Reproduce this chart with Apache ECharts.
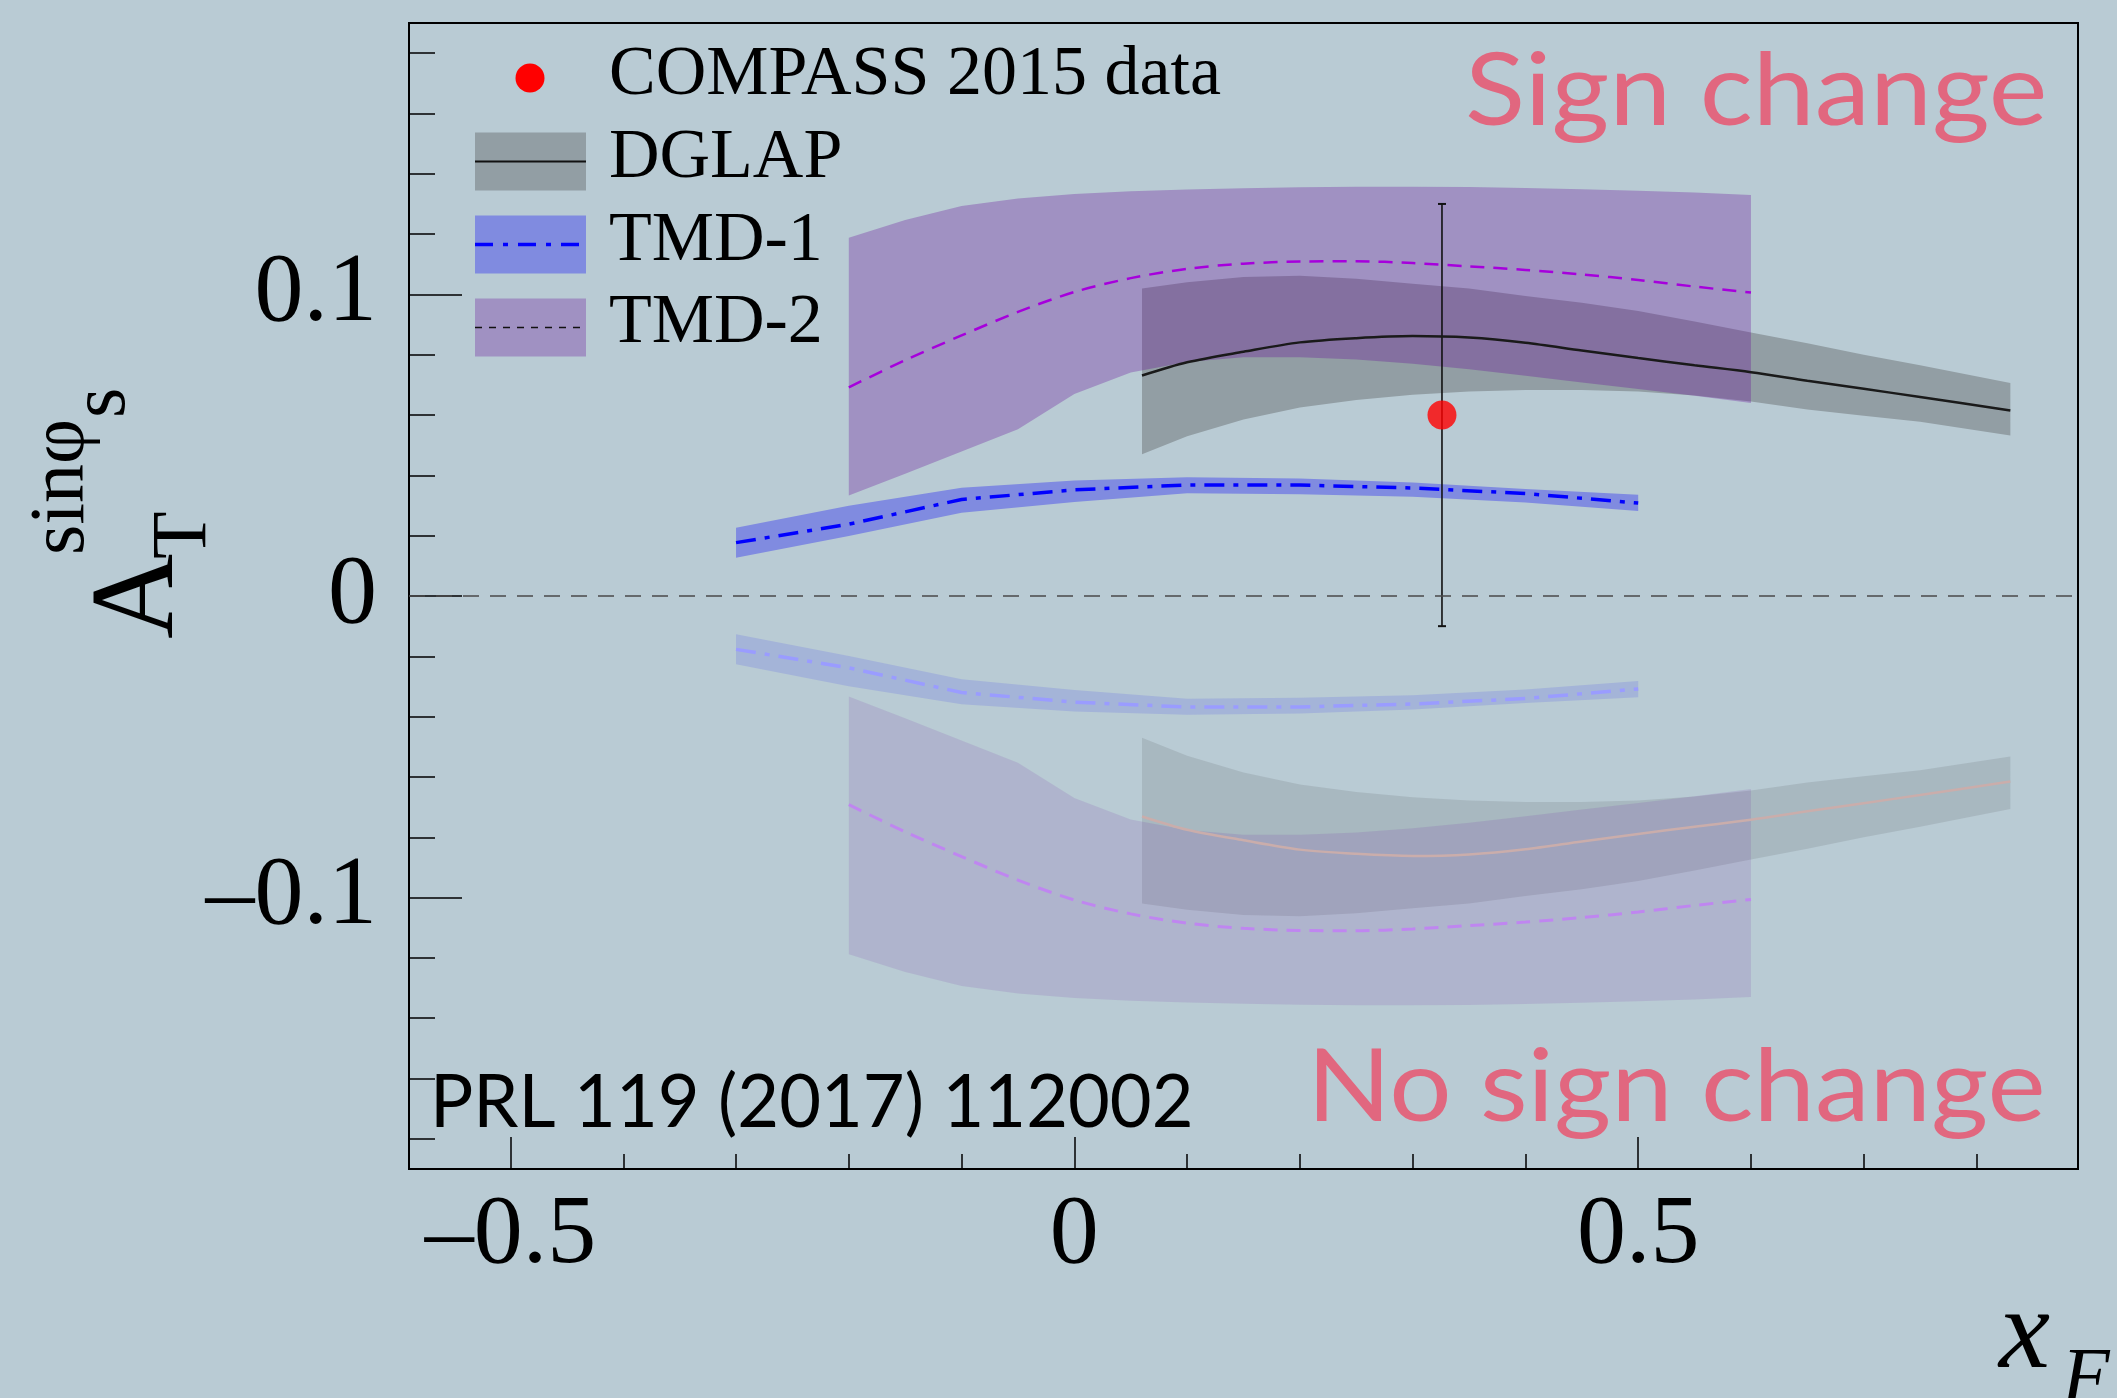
<!DOCTYPE html>
<html>
<head>
<meta charset="utf-8">
<script src="https://cdn.jsdelivr.net/npm/echarts@6/dist/echarts.min.js"></script>
<style>
  html, body { margin: 0; padding: 0; background: #b9cbd4; }
  #chart { width: 2117px; height: 1398px; }
</style>
</head>
<body>
<div id="chart"></div>
<script>
// A_T^{sin phi_s} vs x_F : DGLAP / TMD-1 / TMD-2 bands + COMPASS 2015 point
// upper half = "sign change", lower half = mirrored "no sign change"

const dglapX   = [0.06, 0.10, 0.15, 0.20, 0.25, 0.30, 0.35, 0.40, 0.45, 0.50, 0.55, 0.60, 0.65, 0.70, 0.75, 0.83];
const dglapMid = [0.0731, 0.0775, 0.0810, 0.0841, 0.0855, 0.0862, 0.0857, 0.0840, 0.0814, 0.0789, 0.0765, 0.0742, 0.0714, 0.0687, 0.0660, 0.0615];
const dglapHi  = [0.1020, 0.1040, 0.1058, 0.1062, 0.1052, 0.1035, 0.1020, 0.0995, 0.0972, 0.0945, 0.0910, 0.0874, 0.0838, 0.0800, 0.0765, 0.0706];
const dglapLo  = [0.0470, 0.0530, 0.0585, 0.0625, 0.0650, 0.0667, 0.0678, 0.0683, 0.0683, 0.0678, 0.0665, 0.0645, 0.0618, 0.0598, 0.0578, 0.0532];

const tmd1X   = [-0.3, -0.2, -0.1, 0.0, 0.1, 0.2, 0.3, 0.4, 0.5];
const tmd1Mid = [0.0177, 0.0238, 0.0320, 0.0352, 0.0368, 0.0368, 0.0358, 0.0340, 0.0308];
const tmd1Hi  = [0.0226, 0.0299, 0.0359, 0.0383, 0.0394, 0.0390, 0.0376, 0.0355, 0.0336];
const tmd1Lo  = [0.0127, 0.0199, 0.0276, 0.0312, 0.0341, 0.0337, 0.0329, 0.0310, 0.0282];

const tmd2X   = [-0.2, -0.15, -0.1, -0.05, 0.0, 0.05, 0.1, 0.15, 0.2, 0.25, 0.3, 0.35, 0.4, 0.45, 0.5, 0.55, 0.6];
const tmd2Mid = [0.0692, 0.0782, 0.0864, 0.0942, 0.1008, 0.1054, 0.1085, 0.1102, 0.1109, 0.1110, 0.1104, 0.1093, 0.1081, 0.1066, 0.1048, 0.1026, 0.1006];
const tmd2Hi  = [0.1188, 0.1247, 0.1293, 0.1318, 0.1333, 0.1342, 0.1348, 0.1352, 0.1355, 0.1357, 0.1357, 0.1356, 0.1353, 0.1349, 0.1344, 0.1338, 0.1330];
const tmd2Lo  = [0.0333, 0.0405, 0.0479, 0.0553, 0.0670, 0.0741, 0.0776, 0.0792, 0.0792, 0.0784, 0.0770, 0.0752, 0.0730, 0.0708, 0.0686, 0.0664, 0.0640];

const compassX   = [0.326];
const compassY   = [0.060];
const compassErr = [0.070];

const xMajor = [-0.5, 0, 0.5];
const xMajorLabels = ["\u20130.5", "0", "0.5"];
const xMinor = [-0.4, -0.3, -0.2, -0.1, 0.1, 0.2, 0.3, 0.4, 0.6, 0.7, 0.8];
const yMajor = [-0.1, 0, 0.1];
const yMajorLabels = ["\u20130.1", "0", "0.1"];
const yMinor = [-0.18, -0.16, -0.14, -0.12, -0.08, -0.06, -0.04, -0.02, 0.02, 0.04, 0.06, 0.08, 0.12, 0.14, 0.16, 0.18];

const X_MIN = -0.59, X_MAX = 0.89, Y_MIN = -0.19, Y_MAX = 0.19;

const BG = "#b9cbd4";
const SERIF = "Liberation Serif";

const neg = (a) => a.map((v) => -v);
const pairs = (xs, ys) => xs.map((x, i) => [x, ys[i]]);

function labelOf(vals, labels) {
  return (v) => {
    const i = vals.findIndex((t) => Math.abs(t - v) < 1e-9);
    return i >= 0 ? labels[i] : "";
  };
}

// one filled polygon between lo and hi, through the axis scales
function band(xs, lo, hi, fill) {
  return {
    type: "custom",
    silent: true,
    data: xs.map((x, i) => [x, lo[i], hi[i]]),
    encode: { x: 0, y: [1, 2] },
    renderItem: (params, api) => {
      if (params.dataIndex !== 0) return;
      const top = xs.map((x, i) => api.coord([x, hi[i]]));
      const bot = xs.map((x, i) => api.coord([x, lo[i]])).reverse();
      return { type: "polygon", shape: { points: top.concat(bot) }, style: { fill } };
    },
  };
}

function curve(xs, ys, color, width, dash, smooth) {
  return {
    type: "line",
    silent: true,
    data: pairs(xs, ys),
    symbol: "none",
    smooth: smooth || false,
    lineStyle: { color, width, type: dash || "solid", cap: "butt" },
  };
}

const PURPLE_HI = "rgba(97,0,151,0.285)";
const PURPLE_LO = "rgba(97,0,151,0.11)";

const series = [
  // mirrored, "no sign change"
  band(dglapX, neg(dglapHi), neg(dglapLo), "rgba(146,158,164,0.42)"),
  band(tmd2X, neg(tmd2Hi), neg(tmd2Lo), PURPLE_LO),
  curve(dglapX, neg(dglapMid), "#caadab", 2.5, "solid", 0.3),
  curve(tmd2X, neg(tmd2Mid), "#bf86f0", 3, [14, 9], 0.3),
  band(tmd1X, neg(tmd1Hi), neg(tmd1Lo), "rgba(128,139,224,0.36)"),
  curve(tmd1X, neg(tmd1Mid), "#9a9cff", 3.5, [20, 9, 5, 9]),
  // "sign change"
  band(dglapX, dglapLo, dglapHi, "#929ea4"),
  curve(dglapX, dglapMid, "#1a1a1a", 2.5, "solid", 0.3),
  band(tmd2X, tmd2Lo, tmd2Hi, PURPLE_HI),
  curve(tmd2X, tmd2Mid, "#a600dc", 2.5, [14, 9], 0.3),
  band(tmd1X, tmd1Lo, tmd1Hi, "#808be0"),
  curve(tmd1X, tmd1Mid, "#0000ff", 3.5, [20, 9, 5, 9]),
  // zero line
  curve([X_MIN, X_MAX], [0, 0], "#4a4a4a", 1.5, [16, 11]),
  // error bar
  {
    type: "custom",
    silent: true,
    data: compassX.map((x, i) => [x, compassY[i], compassY[i] - compassErr[i], compassY[i] + compassErr[i]]),
    encode: { x: 0, y: [1, 2, 3] },
    renderItem: (params, api) => {
      const a = api.coord([api.value(0), api.value(2)]);
      const b = api.coord([api.value(0), api.value(3)]);
      const st = { stroke: "#111", lineWidth: 1.6 };
      return {
        type: "group",
        children: [
          { type: "line", shape: { x1: a[0], y1: a[1], x2: b[0], y2: b[1] }, style: st },
          { type: "line", shape: { x1: a[0] - 4, y1: a[1], x2: a[0] + 4, y2: a[1] }, style: { stroke: "#111", lineWidth: 2 } },
          { type: "line", shape: { x1: b[0] - 4, y1: b[1], x2: b[0] + 4, y2: b[1] }, style: { stroke: "#111", lineWidth: 2 } },
        ],
      };
    },
  },
  {
    type: "scatter",
    silent: true,
    data: pairs(compassX, compassY),
    symbol: "circle",
    symbolSize: 29,
    itemStyle: { color: "#ff0000" },
  },
];

function txt(x, y, text, size, color, family, opts) {
  const o = opts || {};
  return {
    type: "text",
    x, y,
    scaleX: o.scaleX || 1,
    silent: true,
    z: 100,
    style: {
      text,
      x: 0, y: 0,
      fill: color,
      fontSize: size,
      fontFamily: family,
      fontStyle: o.italic ? "italic" : "normal",
      align: o.align || "left",
      textAlign: o.align || "left",
      verticalAlign: "middle",
      textVerticalAlign: "middle",
    },
  };
}

function legendBox(y, fill, stroke, width, dash) {
  return [
    { type: "rect", silent: true, z: 100, shape: { x: 475, y: y - 29, width: 111, height: 58 }, style: { fill } },
    { type: "line", silent: true, z: 101, shape: { x1: 475, y1: y, x2: 586, y2: y }, style: { stroke, lineWidth: width, lineDash: dash } },
  ];
}

const graphic = [
  // legend
  { type: "circle", silent: true, z: 100, shape: { cx: 530, cy: 78, r: 14.5 }, style: { fill: "#ff0000" } },
  ...legendBox(161.5, "#929ea4", "#111", 2, null),
  ...legendBox(244.5, "#808be0", "#0000ff", 3.5, [18, 10, 5, 10]),
  ...legendBox(327.5, PURPLE_HI, "#111", 1.5, [7, 7]),
  txt(609, 76, "COMPASS 2015 data", 70, "#000", SERIF),
  txt(609, 159, "DGLAP", 70, "#000", SERIF),
  txt(609, 242, "TMD-1", 70, "#000", SERIF),
  txt(609, 324, "TMD-2", 70, "#000", SERIF),
  // annotations
  txt(1465, 92, "Sign change", 101, "#e1677f", "Lato", { scaleX: 1.1 }),
  txt(1307, 1088, "No sign change", 101, "#e1677f", "Lato", { scaleX: 1.09 }),
  txt(430, 1103, "PRL 119 (2017) 112002", 74, "#000", "Lato", { scaleX: 0.975 }),
  // x axis title
  txt(1999, 1337, "x", 115, "#000", SERIF, { italic: true }),
  txt(2062, 1380, "F", 78, "#000", SERIF, { italic: true }),
  // y axis title, rotated
  {
    type: "group",
    x: 177, y: 639,
    rotation: Math.PI / 2,
    silent: true,
    z: 100,
    children: [
      txt(0, -36, "A", 118, "#000", SERIF),
      txt(80, 8, "T", 78, "#000", SERIF),
      txt(84, -114, "sin\u03c6", 78, "#000", SERIF),
      txt(221, -73, "s", 78, "#000", SERIF),
    ],
  },
];

const axisLabelStyle = { color: "#000", fontFamily: SERIF, fontSize: 98 };
const noLine = { show: false, onZero: false };

const option = {
  animation: false,
  backgroundColor: BG,
  grid: {
    left: 409, right: 39, top: 23, bottom: 229,
    show: true, borderColor: "#000", borderWidth: 2, backgroundColor: "transparent",
  },
  xAxis: [
    {
      type: "value", min: X_MIN, max: X_MAX, position: "bottom",
      axisLine: noLine,
      splitLine: { show: false },
      axisTick: { inside: true, length: 32, customValues: xMajor, lineStyle: { color: "#000", width: 1.5 } },
      axisLabel: { customValues: xMajor, formatter: labelOf(xMajor, xMajorLabels), margin: 18, ...axisLabelStyle },
    },
    {
      type: "value", min: X_MIN, max: X_MAX, position: "bottom",
      axisLine: noLine,
      splitLine: { show: false },
      axisTick: { inside: true, length: 15, customValues: xMinor, lineStyle: { color: "#000", width: 1.5 } },
      axisLabel: { show: false },
    },
  ],
  yAxis: [
    {
      type: "value", min: Y_MIN, max: Y_MAX, position: "left",
      axisLine: noLine,
      splitLine: { show: false },
      axisTick: { inside: true, length: 53, customValues: yMajor, lineStyle: { color: "#000", width: 1.5 } },
      axisLabel: { customValues: yMajor, formatter: labelOf(yMajor, yMajorLabels), margin: 32, ...axisLabelStyle },
    },
    {
      type: "value", min: Y_MIN, max: Y_MAX, position: "left",
      axisLine: noLine,
      splitLine: { show: false },
      axisTick: { inside: true, length: 26, customValues: yMinor, lineStyle: { color: "#000", width: 1.5 } },
      axisLabel: { show: false },
    },
  ],
  series,
  graphic,
};

const chart = echarts.init(document.getElementById("chart"), null, { renderer: "canvas" });
chart.setOption(option);
</script>
</body>
</html>
